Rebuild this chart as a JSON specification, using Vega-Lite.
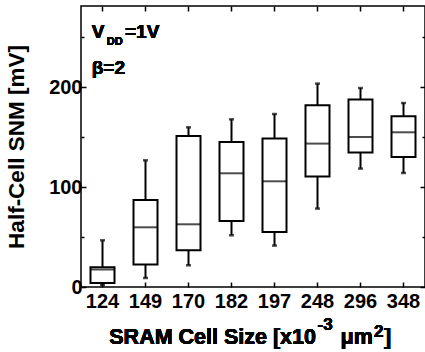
{
  "$schema": "https://vega.github.io/schema/vega-lite/v6.json",
  "width": 344,
  "height": 281,
  "autosize": "none",
  "padding": {"left": 81, "top": 6, "right": 0, "bottom": 65},
  "config": {
    "font": "Liberation Sans",
    "view": {"stroke": "black", "strokeWidth": 1.5},
    "axis": {
      "domain": false,
      "grid": false,
      "labelFont": "Liberation Sans",
      "labelFontWeight": "bold",
      "labelFontSize": 20,
      "labelColor": "black",
      "titleFont": "Liberation Sans",
      "titleFontWeight": "bold",
      "titleFontSize": 22.5,
      "titleColor": "black",
      "tickColor": "black",
      "tickWidth": 1.5
    },
    "text": {"font": "Liberation Sans", "fontWeight": "bold", "color": "black", "baseline": "alphabetic"}
  },
  "data": {
    "values": [
      {"size": "124", "min": 2, "q1": 4, "median": 17.5, "q3": 19.7, "max": 46.7},
      {"size": "149", "min": 9, "q1": 22.4, "median": 59.7, "q3": 87, "max": 126.7},
      {"size": "170", "min": 21.7, "q1": 36.7, "median": 62.7, "q3": 151, "max": 159.7},
      {"size": "182", "min": 51.7, "q1": 66, "median": 113.7, "q3": 145, "max": 167.7},
      {"size": "197", "min": 41.4, "q1": 55, "median": 105.7, "q3": 148.4, "max": 173},
      {"size": "248", "min": 78.4, "q1": 110.4, "median": 143.4, "q3": 181.7, "max": 203.4},
      {"size": "296", "min": 118.4, "q1": 134.4, "median": 150, "q3": 187.4, "max": 199},
      {"size": "348", "min": 114, "q1": 130, "median": 154.7, "q3": 170.7, "max": 184}
    ]
  },
  "layer": [
    {
      "mark": {"type": "rule", "color": "black", "strokeWidth": 2},
      "encoding": {
        "x": {
          "field": "size", "type": "ordinal", "sort": null,
          "scale": {"paddingInner": 0, "paddingOuter": 0},
          "axis": {
            "orient": "bottom", "labelAngle": 0, "tickSize": -5, "labelPadding": 9,
            "title": null
          }
        },
        "y": {
          "field": "min", "type": "quantitative",
          "scale": {"domain": [0, 281], "nice": false},
          "axis": {
            "orient": "left",
            "values": [0, 50, 100, 150, 200, 250],
            "labelExpr": "datum.value % 100 === 0 ? datum.label : ''",
            "tickSize": {"condition": {"test": "datum.value % 100 === 0", "value": -5}, "value": -3},
            "labelPadding": 4,
            "title": "Half-Cell SNM [mV]",
            "titleX": -65, "titleBaseline": "middle"
          }
        },
        "y2": {"field": "max"}
      }
    },
    {
      "mark": {"type": "bar", "width": 24, "fill": "white", "stroke": "black", "strokeWidth": 2},
      "encoding": {
        "x": {"field": "size", "type": "ordinal", "sort": null, "axis": null},
        "y": {"field": "q1", "type": "quantitative", "axis": null},
        "y2": {"field": "q3"}
      }
    },
    {
      "mark": {"type": "tick", "orient": "horizontal", "size": 24, "thickness": 2, "color": "black"},
      "encoding": {
        "x": {"field": "size", "type": "ordinal", "sort": null, "axis": null},
        "y": {"field": "median", "type": "quantitative", "axis": null}
      }
    },
    {
      "mark": {"type": "tick", "orient": "horizontal", "size": 5, "thickness": 2.5, "color": "black"},
      "encoding": {
        "x": {
          "field": "size", "type": "ordinal", "sort": null,
          "axis": {"orient": "top", "labels": false, "title": null, "tickSize": -5}
        },
        "y": {
          "field": "min", "type": "quantitative",
          "axis": {
            "orient": "right", "labels": false, "title": null,
            "values": [0, 50, 100, 150, 200, 250],
            "tickSize": {"condition": {"test": "datum.value % 100 === 0", "value": -5}, "value": -3}
          }
        }
      }
    },
    {
      "mark": {"type": "tick", "orient": "horizontal", "size": 5, "thickness": 2.5, "color": "black"},
      "encoding": {
        "x": {"field": "size", "type": "ordinal", "sort": null, "axis": null},
        "y": {"field": "max", "type": "quantitative", "axis": null}
      }
    },
    {
      "mark": {"type": "text", "align": "left", "dx": -10.8, "fontSize": 19},
      "encoding": {
        "x": {"datum": "124", "type": "ordinal", "axis": null},
        "y": {"datum": 248.7, "type": "quantitative", "axis": null},
        "text": {"value": "V"}
      }
    },
    {
      "mark": {"type": "text", "align": "left", "dx": 4.2, "fontSize": 11},
      "encoding": {
        "x": {"datum": "124", "type": "ordinal", "axis": null},
        "y": {"datum": 242, "type": "quantitative", "axis": null},
        "text": {"value": "DD"}
      }
    },
    {
      "mark": {"type": "text", "align": "left", "dx": 22.5, "fontSize": 19},
      "encoding": {
        "x": {"datum": "124", "type": "ordinal", "axis": null},
        "y": {"datum": 248.7, "type": "quantitative", "axis": null},
        "text": {"value": "=1V"}
      }
    },
    {
      "mark": {"type": "text", "align": "left", "dx": -10.8, "fontSize": 19},
      "encoding": {
        "x": {"datum": "124", "type": "ordinal", "axis": null},
        "y": {"datum": 213, "type": "quantitative", "axis": null},
        "text": {"value": "β=2"}
      }
    },
    {
      "mark": {"type": "text", "align": "right", "dx": -44.5, "fontSize": 21.5},
      "encoding": {
        "x": {"datum": "296", "type": "ordinal", "axis": null},
        "y": {"datum": -57, "type": "quantitative", "axis": null},
        "text": {"value": "SRAM Cell Size [x10"}
      }
    },
    {
      "mark": {"type": "text", "align": "left", "dx": -43, "fontSize": 17},
      "encoding": {
        "x": {"datum": "296", "type": "ordinal", "axis": null},
        "y": {"datum": -43, "type": "quantitative", "axis": null},
        "text": {"value": "-3"}
      }
    },
    {
      "mark": {"type": "text", "align": "left", "dx": -20, "fontSize": 21.5},
      "encoding": {
        "x": {"datum": "296", "type": "ordinal", "axis": null},
        "y": {"datum": -57, "type": "quantitative", "axis": null},
        "text": {"value": "μm"}
      }
    },
    {
      "mark": {"type": "text", "align": "left", "dx": 13.5, "fontSize": 17},
      "encoding": {
        "x": {"datum": "296", "type": "ordinal", "axis": null},
        "y": {"datum": -50, "type": "quantitative", "axis": null},
        "text": {"value": "2"}
      }
    },
    {
      "mark": {"type": "text", "align": "left", "dx": 23.5, "fontSize": 21.5},
      "encoding": {
        "x": {"datum": "296", "type": "ordinal", "axis": null},
        "y": {"datum": -57, "type": "quantitative", "axis": null},
        "text": {"value": "]"}
      }
    }
  ],
  "resolve": {"axis": {"x": "independent", "y": "independent"}}
}
